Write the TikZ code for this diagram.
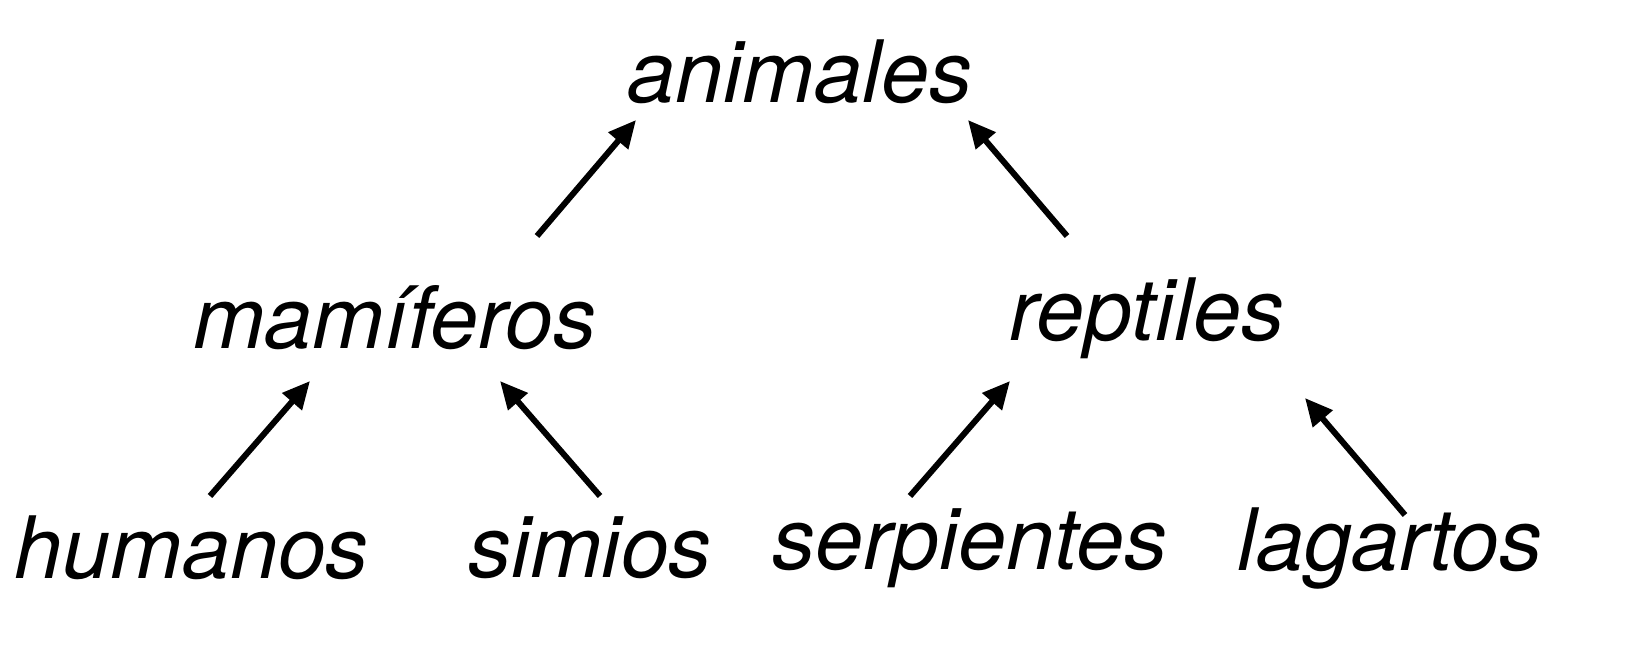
\documentclass[tikz,border=0pt]{standalone}
\usepackage{fontspec}
\setmainfont{TeX Gyre Heros}
\usetikzlibrary{arrows.meta}

\tikzset{
  word/.style={font=\fontsize{49}{56}\selectfont\itshape, inner sep=0pt},
  arr/.style={-{Triangle[length=0.55cm,width=0.5cm]}, line width=0.12cm}
}

\begin{document}
\begin{tikzpicture}[x=0.02cm, y=-0.02cm]

\node[word] (animales)   at (800,72)  {animales};
\node[word] (mamiferos)  at (395,318) {mamíferos};
\node[word] (reptiles)   at (1147,318) {reptiles};
\node[word] (humanos)    at (192,548) {humanos};
\node[word] (simios)     at (590,548) {simios};
\node[word] (serpientes) at (970,548) {serpientes};
\node[word] (lagartos)   at (1390,548) {lagartos};

% arrow ends
\coordinate (mam-up) at (537,236);  \coordinate (ani-l) at (636,120);
\coordinate (rep-up) at (1067,236); \coordinate (ani-r) at (968,120);
\coordinate (hum-up) at (210,496);  \coordinate (mam-l) at (310,381);
\coordinate (sim-up) at (600,496);  \coordinate (mam-r) at (500,381);
\coordinate (ser-up) at (910,496);  \coordinate (rep-l) at (1010,381);
\coordinate (lag-up) at (1405,515); \coordinate (rep-r) at (1305,398);

\draw[arr] (mam-up) -- (ani-l);
\draw[arr] (rep-up) -- (ani-r);
\draw[arr] (hum-up) -- (mam-l);
\draw[arr] (sim-up) -- (mam-r);
\draw[arr] (ser-up) -- (rep-l);
\draw[arr] (lag-up) -- (rep-r);

\pgfresetboundingbox
\useasboundingbox (0,0) rectangle (1647,656);
\end{tikzpicture}
\end{document}
